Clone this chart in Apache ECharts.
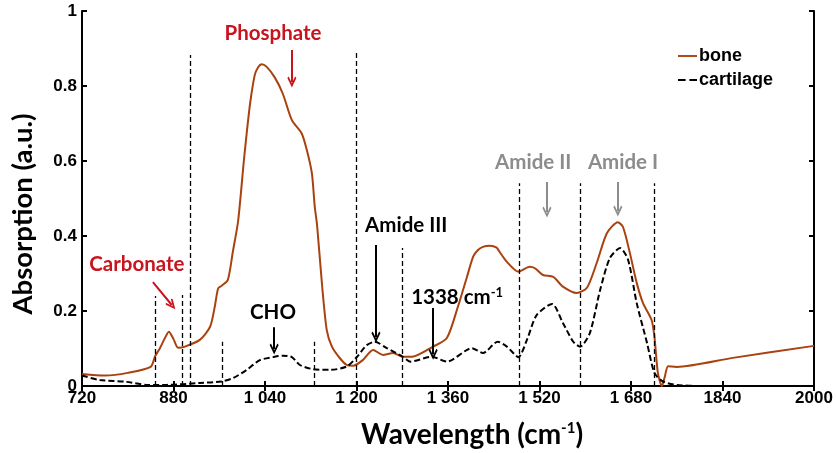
<!DOCTYPE html>
<html><head><meta charset="utf-8">
<script src="https://cdn.jsdelivr.net/npm/echarts@6/dist/echarts.min.js"></script>
<style>html,body{margin:0;padding:0;background:#fff}#c{width:836px;height:453px}</style>
</head><body><div id="c"></div>
<script>
// ---- data ----
const tickValues = [720, 880, 1040, 1200, 1360, 1520, 1680, 1840, 2000];
const tickLabels = ['720', '880', '1 040', '1 200', '1 360', '1 520', '1 680', '1840', '2000'];
const yTickLabels = ['0', '0.2', '0.4', '0.6', '0.8', '1'];

const boneX = [720, 760, 800, 840, 848, 856, 864, 872, 880, 888, 900, 926, 944, 952, 958, 964, 975, 984, 993, 1003, 1008, 1014, 1022, 1028, 1034, 1043, 1057, 1071, 1087, 1104, 1113, 1122, 1127, 1131, 1140, 1148, 1157, 1171, 1183, 1194, 1211, 1229, 1246, 1264, 1281, 1297, 1334, 1358, 1377, 1393, 1404, 1412, 1421, 1433, 1445, 1451, 1463, 1483, 1503, 1512, 1526, 1544, 1561, 1585, 1603, 1620, 1638, 1657, 1666, 1678, 1690, 1701, 1716, 1721, 1727, 1734, 1739, 1745, 1760, 1858, 2000];
const boneY = [0.032, 0.028, 0.035, 0.051, 0.08, 0.1, 0.125, 0.145, 0.125, 0.102, 0.105, 0.123, 0.158, 0.21, 0.26, 0.267, 0.283, 0.36, 0.44, 0.6, 0.674, 0.754, 0.829, 0.85, 0.858, 0.851, 0.823, 0.78, 0.709, 0.674, 0.63, 0.567, 0.478, 0.43, 0.265, 0.149, 0.105, 0.074, 0.056, 0.054, 0.069, 0.096, 0.083, 0.088, 0.078, 0.078, 0.105, 0.128, 0.21, 0.29, 0.345, 0.362, 0.371, 0.374, 0.369, 0.356, 0.331, 0.305, 0.318, 0.314, 0.296, 0.291, 0.265, 0.248, 0.262, 0.328, 0.408, 0.437, 0.424, 0.355, 0.275, 0.221, 0.176, 0.131, 0.035, 0.0, 0.024, 0.053, 0.051, 0.075, 0.107];

const cartX = [720, 751, 798, 833, 868, 926, 964, 984, 1008, 1031, 1054, 1071, 1087, 1101, 1124, 1154, 1183, 1201, 1218, 1232, 1253, 1281, 1294, 1332, 1358, 1402, 1421, 1447, 1463, 1483, 1498, 1515, 1542, 1561, 1579, 1591, 1608, 1626, 1643, 1661, 1675, 1690, 1708, 1721, 1736, 1760, 1801, 2000];
const cartY = [0.028, 0.016, 0.011, 0.003, 0.003, 0.008, 0.012, 0.021, 0.043, 0.069, 0.077, 0.081, 0.077, 0.056, 0.045, 0.043, 0.052, 0.078, 0.109, 0.118, 0.101, 0.078, 0.065, 0.078, 0.065, 0.101, 0.088, 0.118, 0.105, 0.077, 0.123, 0.189, 0.219, 0.168, 0.118, 0.105, 0.141, 0.256, 0.341, 0.368, 0.336, 0.221, 0.115, 0.035, 0.012, 0.003, 0.0, 0.0];

// region boundary lines (wavenumber, top value)
const regionX = [848, 895, 909, 966, 1126, 1199, 1280, 1484, 1592, 1721];
const regionTop = [0.24, 0.243, 0.883, 0.118, 0.118, 0.888, 0.368, 0.541, 0.541, 0.541];

// annotations
const annText = ['Phosphate', 'Carbonate', 'CHO', 'Amide III', '1338 cm{s|-1}', 'Amide II', 'Amide I'];
const annX = [1054, 816, 1054, 1287, 1376, 1509, 1666];
const annY = [0.941, 0.323, 0.195, 0.429, 0.237, 0.597, 0.597];
const annColor = ['red', 'red', 'black', 'black', 'black', 'gray', 'gray'];
// arrows: x0,y0 -> x1,y1
const arrX0 = [1087, 844, 1056, 1234, 1334, 1533, 1657];
const arrY0 = [0.896, 0.277, 0.157, 0.376, 0.208, 0.544, 0.544];
const arrX1 = [1087, 877, 1056, 1234, 1334, 1533, 1657];
const arrY1 = [0.811, 0.216, 0.099, 0.131, 0.085, 0.464, 0.467];

const colors = { red: '#C8141E', black: '#000000', gray: '#8C8C8C' };
const BONE = '#A9420F';
const ARROW = 'path://M5,0 L10,7 L8.6,8.2 L5,3 L1.4,8.2 L0,7 Z';

const zip = (a, b) => a.map((v, i) => [v, b[i]]);

const chart = echarts.init(document.getElementById('c'), null, { renderer: 'canvas' });

const arrowSeries = ['red', 'black', 'gray'].map(col => ({
  type: 'line', data: [], silent: true,
  markLine: {
    silent: true, animation: false,
    symbol: ['none', ARROW], symbolSize: [9, 11],
    lineStyle: { color: colors[col], width: 2, type: 'solid' },
    label: { show: false },
    data: arrX0.map((x, i) => i).filter(i => annColor[i] === col).map(i => [
      { coord: [arrX0[i], arrY0[i]] }, { coord: [arrX1[i], arrY1[i]] }
    ])
  },
  markPoint: {
    silent: true, animation: false, symbol: 'circle', symbolSize: 0,
    label: {
      show: true, position: 'inside', color: colors[col],
      fontFamily: 'Lato', fontWeight: 'bold', fontSize: 20.5,
      rich: { s: { fontFamily: 'Lato', fontWeight: 'bold', fontSize: 13, verticalAlign: 'top', color: colors[col] } }
    },
    data: annX.map((x, i) => i).filter(i => annColor[i] === col).map(i => ({
      coord: [annX[i], annY[i]], label: { formatter: annText[i] }
    }))
  }
}));

const option = {
  animation: false,
  backgroundColor: '#fff',
  grid: { left: 82, right: 22, top: 11, bottom: 67, containLabel: false },
  legend: {
    orient: 'vertical', left: 673, top: 42, itemGap: 6, itemWidth: 19, itemHeight: 2,
    data: [
      { name: 'bone', icon: 'path://M0,0 L20,0 L20,2 L0,2 Z' },
      { name: 'cartilage', icon: 'path://M0,0 L8,0 L8,2 L0,2 Z M12,0 L20,0 L20,2 L12,2 Z' }
    ],
    textStyle: { fontFamily: 'Liberation Sans', fontWeight: 'bold', fontSize: 18, color: '#000', padding: [0, 0, 0, -3] }
  },
  xAxis: [{
    type: 'value', min: 720, max: 2000,
    axisLine: { show: true, lineStyle: { color: '#000', width: 2 } },
    axisTick: { show: true, inside: true, length: 5, customValues: tickValues, lineStyle: { width: 2 } },
    axisLabel: {
      customValues: tickValues, margin: 4,
      formatter: v => tickLabels[tickValues.indexOf(v)],
      fontFamily: 'Liberation Sans', fontWeight: 'bold', fontSize: 17, color: '#000'
    },
    splitLine: { show: false }
  }, {
    type: 'value', min: 720, max: 2000, position: 'top',
    axisLine: { show: true, lineStyle: { color: '#000', width: 2 } },
    axisTick: { show: true, inside: true, length: 5, customValues: tickValues, lineStyle: { width: 2 } },
    axisLabel: { show: false }, splitLine: { show: false }
  }],
  yAxis: [{
    type: 'value', min: 0, max: 1, interval: 0.2,
    axisLine: { show: true, lineStyle: { color: '#000', width: 2 } },
    axisTick: { show: true, inside: true, length: 5, lineStyle: { width: 2 } },
    axisLabel: {
      margin: 5, formatter: (v) => yTickLabels[Math.round(v / 0.2)],
      fontFamily: 'Liberation Sans', fontWeight: 'bold', fontSize: 17, color: '#000'
    },
    splitLine: { show: false }
  }, {
    type: 'value', min: 0, max: 1, interval: 0.2, position: 'right',
    axisLine: { show: true, lineStyle: { color: '#000', width: 2 } },
    axisTick: { show: true, inside: true, length: 5, lineStyle: { width: 2 } },
    axisLabel: { show: false }, splitLine: { show: false }
  }],
  series: [
    {
      name: 'region', type: 'line', data: [], silent: true,
      markLine: {
        silent: true, animation: false, symbol: ['none', 'none'],
        lineStyle: { color: '#000', width: 1.3, type: [5, 3] },
        label: { show: false },
        data: regionX.map((x, i) => [{ coord: [x, 0] }, { coord: [x, regionTop[i]] }])
      }
    },
    {
      name: 'bone', type: 'line', data: zip(boneX, boneY), showSymbol: false, symbol: 'none',
      smooth: 0.25, lineStyle: { color: BONE, width: 2 }, itemStyle: { color: BONE }
    },
    {
      name: 'cartilage', type: 'line', data: zip(cartX, cartY), showSymbol: false, symbol: 'none',
      smooth: 0.25, lineStyle: { color: '#000', width: 2, type: [6, 3] }, itemStyle: { color: '#000' }
    },
    ...arrowSeries
  ],
  graphic: [
    {
      type: 'text', x: 472, y: 435, style: {
        text: '{a|Wavelength (cm}{s|-1}{a|)}', align: 'center', verticalAlign: 'middle',
        rich: {
          a: { fontFamily: 'Lato', fontWeight: 'bold', fontSize: 28, fill: '#000' },
          s: { fontFamily: 'Lato', fontWeight: 'bold', fontSize: 15, fill: '#000', verticalAlign: 'top' }
        }
      }
    },
    {
      type: 'text', x: 23, y: 214, rotation: Math.PI / 2, style: {
        text: 'Absorption (a.u.)', align: 'center', verticalAlign: 'middle',
        fontFamily: 'Lato', fontWeight: 'bold', fontSize: 27.5, fill: '#000'
      }
    }
  ]
};
chart.setOption(option);
</script></body></html>
